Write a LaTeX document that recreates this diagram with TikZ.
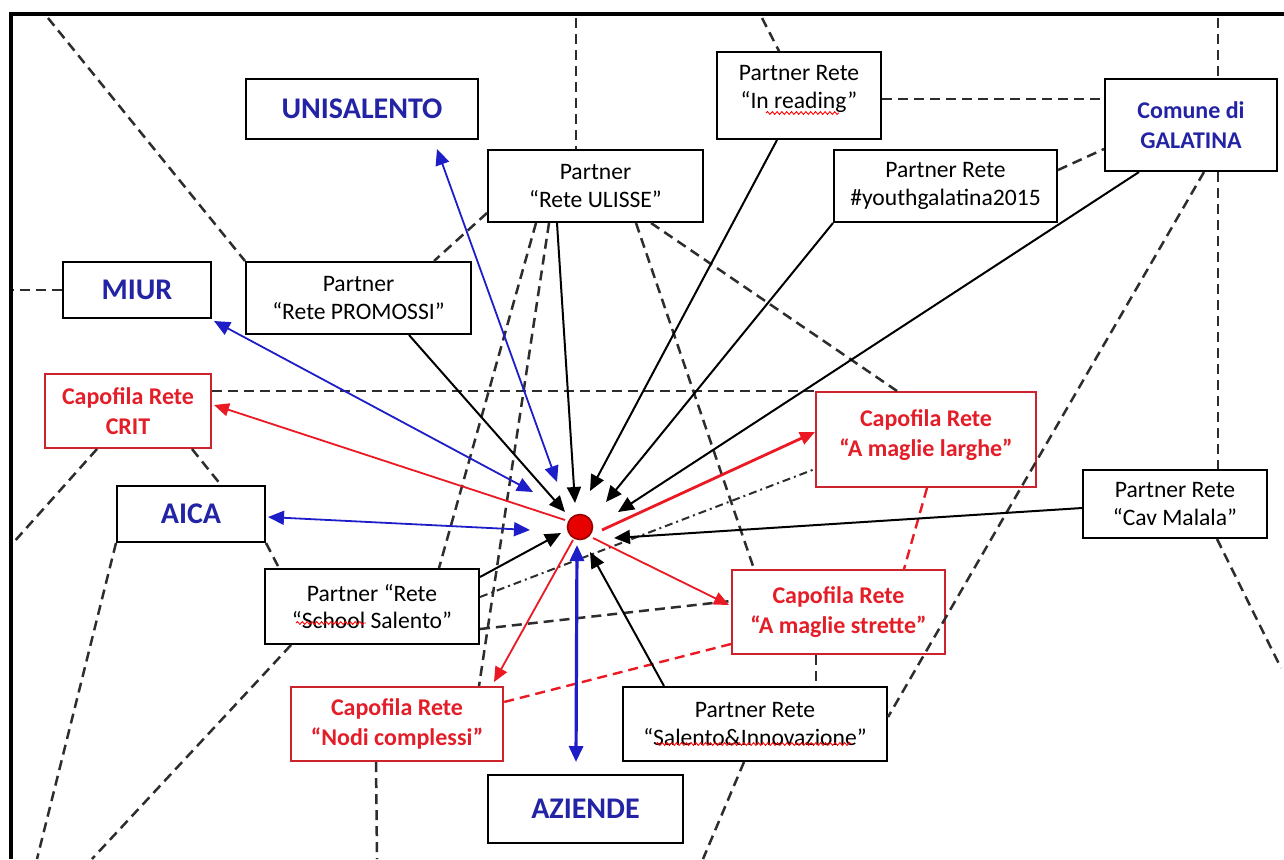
\documentclass[tikz,border=0pt]{standalone}
\usepackage{fontspec}
\setmainfont{Carlito}
\usetikzlibrary{arrows.meta,calc,decorations.pathmorphing}
\definecolor{bluA}{RGB}{30,30,200}
\definecolor{bluT}{RGB}{35,35,165}
\definecolor{redA}{RGB}{235,25,35}
\definecolor{redT}{RGB}{228,30,40}
\definecolor{redB}{RGB}{205,35,45}
\definecolor{dashgray}{RGB}{45,45,45}
\tikzset{
  box/.style={draw, fill=white, line width=1pt, inner sep=0pt, align=center, font=\fontsize{11.8}{13.8}\selectfont},
  bluebox/.style={box, text=bluT, font=\fontsize{15}{18}\selectfont\bfseries},
  redbox/.style={box, draw=redB, text=redT, font=\fontsize{12}{15}\selectfont\bfseries},
  blk/.style={line width=1pt, -{Triangle[length=8pt,width=7pt]}},
  blu/.style={bluA, line width=0.9pt, {Triangle[length=8pt,width=7pt]}-{Triangle[length=8pt,width=7pt]}},
  rd/.style={redA, line width=0.9pt, -{Triangle[length=7.5pt,width=6.5pt]}},
  dsh/.style={dashgray, line width=1.25pt, dash pattern=on 5pt off 3pt},
  rdsh/.style={redA, line width=1.2pt, dash pattern=on 5pt off 3pt},
  dshdot/.style={dashgray, line width=1pt, dash pattern=on 4pt off 2pt on 1pt off 2pt},
  wavy/.style={red, line width=0.45pt, decorate, decoration={snake, amplitude=0.7pt, segment length=2.4pt}},
}
\begin{document}
\begin{tikzpicture}[x=0.5pt,y=-0.5pt]
\useasboundingbox (0,0) rectangle (1284,859);
\fill[white] (0,0) rectangle (1284,859);
\draw[line width=2pt] (1284,14) -- (11,14) -- (11,859);

% nodes (sizes: px/2 in pt)
\node[bluebox, minimum width=116pt, minimum height=30pt] (uni) at (362,109) {UNISALENTO};
\node[box, minimum width=107.5pt, minimum height=36pt] (ulisse) at (595.5,186) {Partner\\“Rete ULISSE”};
\node[box, minimum width=82pt, minimum height=43.5pt] (inread) at (799,95.5) {\raisebox{3.3pt}[\height][\depth]{\begin{tabular}{@{}c@{}}Partner Rete\\“In reading”\end{tabular}}};
\node[box, minimum width=111.5pt, minimum height=36pt] (youth) at (945.5,186) {Partner Rete\\\#youthgalatina2015};
\node[bluebox, minimum width=86pt, minimum height=46pt, font=\fontsize{12}{15}\selectfont\bfseries] (comune) at (1191,125) {Comune di\\GALATINA};
\node[bluebox, minimum width=74pt, minimum height=28pt] (miur) at (137,290) {MIUR};
\node[box, minimum width=112.5pt, minimum height=36pt] (promossi) at (358.5,298) {Partner\\“Rete PROMOSSI”};
\node[redbox, minimum width=83pt, minimum height=37pt] (crit) at (128,411) {Capofila Rete\\CRIT};
\node[bluebox, minimum width=74pt, minimum height=28pt] (aica) at (191,514) {AICA};
\node[box, minimum width=107pt, minimum height=37.5pt] (school) at (372,606.5) {Partner “Rete\\“School Salento”};
\node[redbox, minimum width=106pt, minimum height=37pt] (nodi) at (397,724) {Capofila Rete\\“Nodi complessi”};
\node[bluebox, minimum width=97.5pt, minimum height=34pt] (aziende) at (585.5,809) {AZIENDE};
\node[box, minimum width=132pt, minimum height=37pt] (salinn) at (755,724) {Partner Rete\\“Salento\&Innovazione”};
\node[redbox, minimum width=106.5pt, minimum height=42pt] (strette) at (838.5,612) {Capofila Rete\\“A maglie strette”};
\node[redbox, minimum width=110pt, minimum height=47.5pt] (larghe) at (926,439.5) {\raisebox{2.2pt}[\height][\depth]{\begin{tabular}{@{}c@{}}Capofila Rete\\“A maglie larghe”\end{tabular}}};
\node[box, minimum width=92pt, minimum height=34pt] (cav) at (1175,504) {Partner Rete\\“Cav Malala”};
\coordinate (hubc) at (580,527);

% spell-check wavy marks
\draw[wavy] ($(inread.south west)+(50,-27)$) -- ++(73,0);
\draw[wavy] ($(school.south west)+(32,-22)$) -- ++(70,0);
\draw[wavy] ($(salinn.south west)+(34,-18)$) -- ++(195,0);

% free ends
\coordinate (f1) at (48,18);
\coordinate (f2) at (576,18);
\coordinate (f3) at (762,18);
\coordinate (f5) at (1218,18);
\coordinate (f8) at (1281,668);
\coordinate (f15) at (13,290);
\coordinate (f16) at (13,543);
\coordinate (f18) at (37,859);
\coordinate (f20) at (92,859);
\coordinate (f21) at (377,859);
\coordinate (f22) at (703,859);

% dashed web
\draw[dsh] (f1) -- (promossi.north west);
\draw[dsh] (f2) -- (f2 |- ulisse.north);
\draw[dsh] (f3) -- ($(inread.north west)+(63,0)$);
\draw[dsh] ($(inread.east)+(0,3.5)$) -- ($(comune.west)+(0,-26)$);
\draw[dsh] (f5) -- (f5 |- comune.north);
\draw[dsh] (f5 |- comune.south) -- (f5 |- cav.north);
\draw[dsh] ($(youth.east)+(0,-16)$) -- ($(comune.west)+(0,24)$);
\draw[dsh] ($(comune.south west)+(100,0)$) -- ($(salinn.east)+(0,-7)$);
\draw[dsh] ($(cav.south west)+(135,0)$) -- (f8);
\draw[dsh] ($(ulisse.south west)+(164,0)$) -- ($(larghe.north west)+(82,0)$);
\draw[dsh] ($(ulisse.south west)+(149,0)$) -- ($(strette.north west)+(23,0)$);
\draw[dsh] ($(ulisse.south west)+(49,0)$) -- ($(school.north west)+(175,0)$);
\draw[dsh] ($(ulisse.south west)+(62,0)$) -- ($(nodi.north west)+(189,0)$);
\draw[dsh] ($(ulisse.west)+(0,27)$) -- ($(promossi.north west)+(189,0)$);
\draw[dsh] ($(crit.north east)+(0,18)$) -- (larghe.north west);
\draw[dsh] (miur.west) -- (f15);
\draw[dsh] ($(crit.south west)+(53,0)$) -- (f16);
\draw[dsh] ($(crit.south west)+(148,0)$) -- ($(aica.north west)+(105,0)$);
\draw[dsh] (aica.south west) -- (f18);
\draw[dsh] (aica.south east) -- ($(school.north west)+(15,0)$);
\draw[dsh] ($(school.south west)+(27,0)$) -- (f20);
\draw[dsh] ($(nodi.south west)+(86,0)$) -- (f21);
\draw[dsh] ($(salinn.south west)+(122,0)$) -- (f22);
\draw[dsh] ($(strette.south west)+(85,0)$) -- ($(salinn.north west)+(194,0)$);
\draw[dsh] ($(school.north east)+(0,61)$) -- ($(strette.north west)+(0,32)$);
\draw[dshdot] ($(school.north east)+(0,29)$) -- ($(larghe.north west)+(0,78)$);

% red dashed
\draw[rdsh] ($(strette.north west)+(0,75)$) -- ($(nodi.north east)+(0,16)$);
\draw[rdsh] ($(larghe.south west)+(112,0)$) -- ($(strette.north west)+(173,0)$);

% black arrows into the hub
\draw[blk] ($(ulisse.south west)+(70,0)$) -- ($(hubc)+(-5,-24)$);
\draw[blk] ($(promossi.south west)+(164,0)$) -- ($(hubc)+(-15,-15)$);
\draw[blk] ($(inread.south west)+(61,0)$) -- ($(hubc)+(10,-36)$);
\draw[blk] (youth.south west) -- ($(hubc)+(26,-25)$);
\draw[blk] ($(comune.south west)+(35,0)$) -- ($(hubc)+(38,-15)$);
\draw[blk] ($(cav.west)+(0,4)$) -- ($(hubc)+(34,11)$);
\draw[blk] ($(school.north east)+(0,9)$) -- ($(hubc)+(-19,6)$);
\draw[blk] ($(salinn.north west)+(42,0)$) -- ($(hubc)+(10,25)$);

% blue double arrows
\draw[blu] ($(uni.south west)+(192,9)$) -- ($(hubc)+(-23,-45)$);
\draw[blu] ($(miur.south east)+(2,2)$) -- ($(hubc)+(-47,-35)$);
\draw[blu] ($(aica.east)+(2,3)$) -- ($(hubc)+(-50,3)$);
\draw[blu, line width=1.6pt] ($(aziende.north west)+(89,-12)$) -- ($(hubc)+(-3,18)$);

% red arrows out of the hub
\draw[rd] ($(hubc)+(-15,-7)$) -- ($(crit.east)+(2,-6)$);
\draw[rd, line width=1.4pt] ($(hubc)+(22,3)$) -- ($(larghe.west)+(0,-7.5)$);
\draw[rd] ($(hubc)+(13,11)$) -- ($(strette.west)+(-2,-7)$);
\draw[rd] ($(hubc)+(-7,13)$) -- ($(nodi.north east)+(-10,-4)$);

\node[circle, draw={rgb,255:red,150;green,0;blue,0}, line width=0.8pt, fill={rgb,255:red,230;green,0;blue,0}, minimum size=12.5pt, inner sep=0pt] (hub) at (hubc) {};
\end{tikzpicture}
\end{document}
